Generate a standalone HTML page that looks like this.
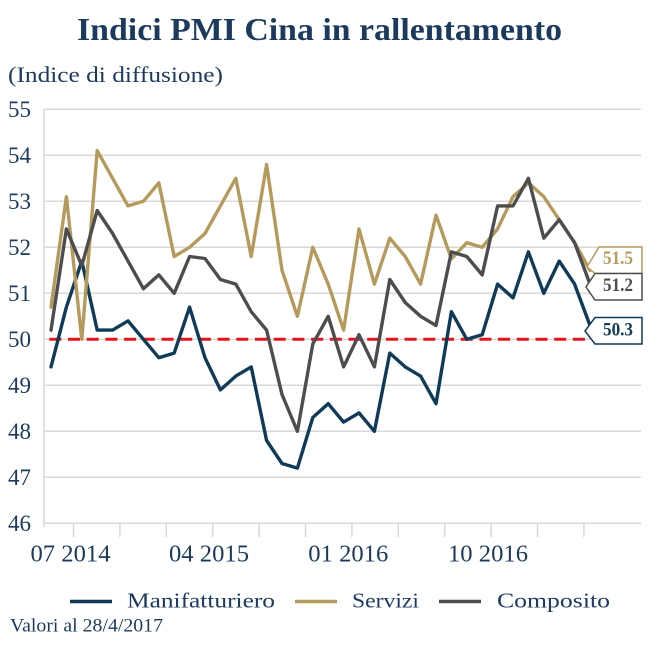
<!DOCTYPE html>
<html>
<head>
<meta charset="utf-8">
<style>
html,body{margin:0;padding:0;background:#ffffff;}
svg{display:block;}
text{font-family:"Liberation Serif",serif;}
</style>
</head>
<body>
<svg width="671" height="650" viewBox="0 0 671 650" xmlns="http://www.w3.org/2000/svg">
<rect width="671" height="650" fill="#ffffff"/>
<!-- Title -->
<text x="77" y="40" font-size="32" font-weight="bold" fill="#1b3a5e" textLength="485" lengthAdjust="spacingAndGlyphs">Indici PMI Cina in rallentamento</text>
<text x="8" y="82" font-size="22" fill="#1b3a5e" textLength="215" lengthAdjust="spacingAndGlyphs">(Indice di diffusione)</text>

<!-- Gridlines -->
<g stroke="#d9d9d9" stroke-width="1.5" fill="none">
<line x1="44" y1="109.3" x2="641" y2="109.3"/>
<line x1="44" y1="155.3" x2="641" y2="155.3"/>
<line x1="44" y1="201.3" x2="641" y2="201.3"/>
<line x1="44" y1="247.3" x2="641" y2="247.3"/>
<line x1="44" y1="293.3" x2="641" y2="293.3"/>
<line x1="44" y1="339.3" x2="641" y2="339.3"/>
<line x1="44" y1="385.3" x2="641" y2="385.3"/>
<line x1="44" y1="431.3" x2="641" y2="431.3"/>
<line x1="44" y1="477.3" x2="641" y2="477.3"/>
<line x1="44" y1="523.3" x2="641" y2="523.3"/>
<line x1="44" y1="109.3" x2="44" y2="527"/>
<!-- ticks -->
<line x1="73.5" y1="523.3" x2="73.5" y2="537"/>
<line x1="119.9" y1="523.3" x2="119.9" y2="537"/>
<line x1="166.3" y1="523.3" x2="166.3" y2="537"/>
<line x1="212.7" y1="523.3" x2="212.7" y2="537"/>
<line x1="259.1" y1="523.3" x2="259.1" y2="537"/>
<line x1="305.5" y1="523.3" x2="305.5" y2="537"/>
<line x1="351.9" y1="523.3" x2="351.9" y2="537"/>
<line x1="398.3" y1="523.3" x2="398.3" y2="537"/>
<line x1="444.7" y1="523.3" x2="444.7" y2="537"/>
<line x1="491.1" y1="523.3" x2="491.1" y2="537"/>
<line x1="537.5" y1="523.3" x2="537.5" y2="537"/>
<line x1="583.9" y1="523.3" x2="583.9" y2="537"/>
</g>

<!-- Y labels -->
<g font-size="23" fill="#1b3a5e">
<text x="8" y="116.8" textLength="23" lengthAdjust="spacingAndGlyphs">55</text>
<text x="8" y="162.8" textLength="23" lengthAdjust="spacingAndGlyphs">54</text>
<text x="8" y="208.8" textLength="23" lengthAdjust="spacingAndGlyphs">53</text>
<text x="8" y="254.8" textLength="23" lengthAdjust="spacingAndGlyphs">52</text>
<text x="8" y="300.8" textLength="23" lengthAdjust="spacingAndGlyphs">51</text>
<text x="8" y="346.8" textLength="23" lengthAdjust="spacingAndGlyphs">50</text>
<text x="8" y="392.8" textLength="23" lengthAdjust="spacingAndGlyphs">49</text>
<text x="8" y="438.8" textLength="23" lengthAdjust="spacingAndGlyphs">48</text>
<text x="8" y="484.8" textLength="23" lengthAdjust="spacingAndGlyphs">47</text>
<text x="8" y="530.8" textLength="23" lengthAdjust="spacingAndGlyphs">46</text>
</g>

<!-- X labels -->
<g font-size="24.5" fill="#1b3a5e">
<text x="30.5" y="561.7" textLength="80" lengthAdjust="spacingAndGlyphs">07 2014</text>
<text x="169" y="561.7" textLength="80" lengthAdjust="spacingAndGlyphs">04 2015</text>
<text x="308.3" y="561.7" textLength="80" lengthAdjust="spacingAndGlyphs">01 2016</text>
<text x="448" y="561.7" textLength="80" lengthAdjust="spacingAndGlyphs">10 2016</text>
</g>

<!-- Red dashed 50 line -->
<line x1="49.3" y1="339.3" x2="589" y2="339.3" stroke="#e8141b" stroke-width="3" stroke-dasharray="12 6.7"/>

<!-- Manifatturiero -->
<polyline fill="none" stroke="#0f3b58" stroke-width="3.4" stroke-linejoin="round" stroke-linecap="round"
points="51,366.9 66.4,307.1 81.8,261.1 97.2,330.1 112.6,330.1 128,320.9 143.4,339.3 158.8,357.7 174.2,353.1 189.6,307.1 205,357.7 220.4,389.9 235.8,376.1 251.2,366.9 266.6,440.5 282,463.5 297.4,468.1 312.8,417.5 328.2,403.7 343.6,422.1 359,412.9 374.4,431.3 389.8,353.1 405.2,366.9 420.6,376.1 436,403.7 451.4,311.7 466.8,339.3 482.2,334.7 497.6,284.1 513,297.9 528.4,251.9 543.8,293.3 559.2,261.1 574.6,284.1 590,325.5"/>

<!-- Servizi -->
<polyline fill="none" stroke="#b59a5c" stroke-width="3.4" stroke-linejoin="round" stroke-linecap="round"
points="51,307.1 66.4,196.7 81.8,339.3 97.2,150.7 112.6,178.3 128,205.9 143.4,201.3 158.8,182.9 174.2,256.5 189.6,247.3 205,233.5 220.4,205.9 235.8,178.3 251.2,256.5 266.6,164.5 282,270.3 297.4,316.3 312.8,247.3 328.2,284.1 343.6,330.1 359,228.9 374.4,284.1 389.8,238.1 405.2,256.5 420.6,284.1 436,215.1 451.4,258.8 466.8,242.7 482.2,247.3 497.6,228.9 513,196.7 528.4,182.9 543.8,196.7 559.2,219.7 574.6,242.7 590,270.3"/>

<!-- Composito -->
<polyline fill="none" stroke="#4d4d4f" stroke-width="3.4" stroke-linejoin="round" stroke-linecap="round"
points="51,330.1 66.4,228.9 81.8,265.7 97.2,210.5 112.6,233.5 128,261.1 143.4,288.7 158.8,274.9 174.2,293.3 189.6,256.5 205,258.5 220.4,279.5 235.8,284.1 251.2,311.7 266.6,330.1 282,394.5 297.4,431.3 312.8,343.9 328.2,316.3 343.6,366.9 359,334.7 374.4,366.9 389.8,279.5 405.2,302.5 420.6,316.3 436,325.5 451.4,251.9 466.8,256.5 482.2,274.9 497.6,205.9 513,205.9 528.4,178.3 543.8,238.1 559.2,219.7 574.6,242.7 590,284.1"/>

<!-- End labels -->
<polygon points="599,247 642,247 642,273.5 595,273.5 587,267" fill="#ffffff" stroke="#b59a5c" stroke-width="1.5"/>
<polygon points="595,273.5 642,273.5 642,300 595,300 586,287" fill="#ffffff" stroke="#4d4d4f" stroke-width="1.5"/>
<polygon points="595,317.5 642,317.5 642,344 595,344 585,331" fill="#ffffff" stroke="#0f3b58" stroke-width="1.5"/>
<g font-size="19" font-weight="bold">
<text x="603" y="264" fill="#b59a5c" textLength="30" lengthAdjust="spacingAndGlyphs">51.5</text>
<text x="603" y="291" fill="#4d4d4f" textLength="30" lengthAdjust="spacingAndGlyphs">51.2</text>
<text x="603" y="335.5" fill="#0f3b58" textLength="30" lengthAdjust="spacingAndGlyphs">50.3</text>
</g>

<!-- Legend -->
<line x1="70" y1="601.5" x2="112" y2="601.5" stroke="#0f3b58" stroke-width="3.5"/>
<line x1="295" y1="601.5" x2="337" y2="601.5" stroke="#b59a5c" stroke-width="3.5"/>
<line x1="439" y1="601.5" x2="481" y2="601.5" stroke="#4d4d4f" stroke-width="3.5"/>
<g font-size="21" fill="#1b3a5e">
<text x="127" y="607.5" textLength="148" lengthAdjust="spacingAndGlyphs">Manifatturiero</text>
<text x="352" y="607.5" textLength="67" lengthAdjust="spacingAndGlyphs">Servizi</text>
<text x="497" y="607.5" textLength="113" lengthAdjust="spacingAndGlyphs">Composito</text>
</g>

<!-- Footer -->
<text x="10" y="631.5" font-size="18.5" fill="#1b3a5e" textLength="153" lengthAdjust="spacingAndGlyphs">Valori al 28/4/2017</text>
</svg>
</body>
</html>
